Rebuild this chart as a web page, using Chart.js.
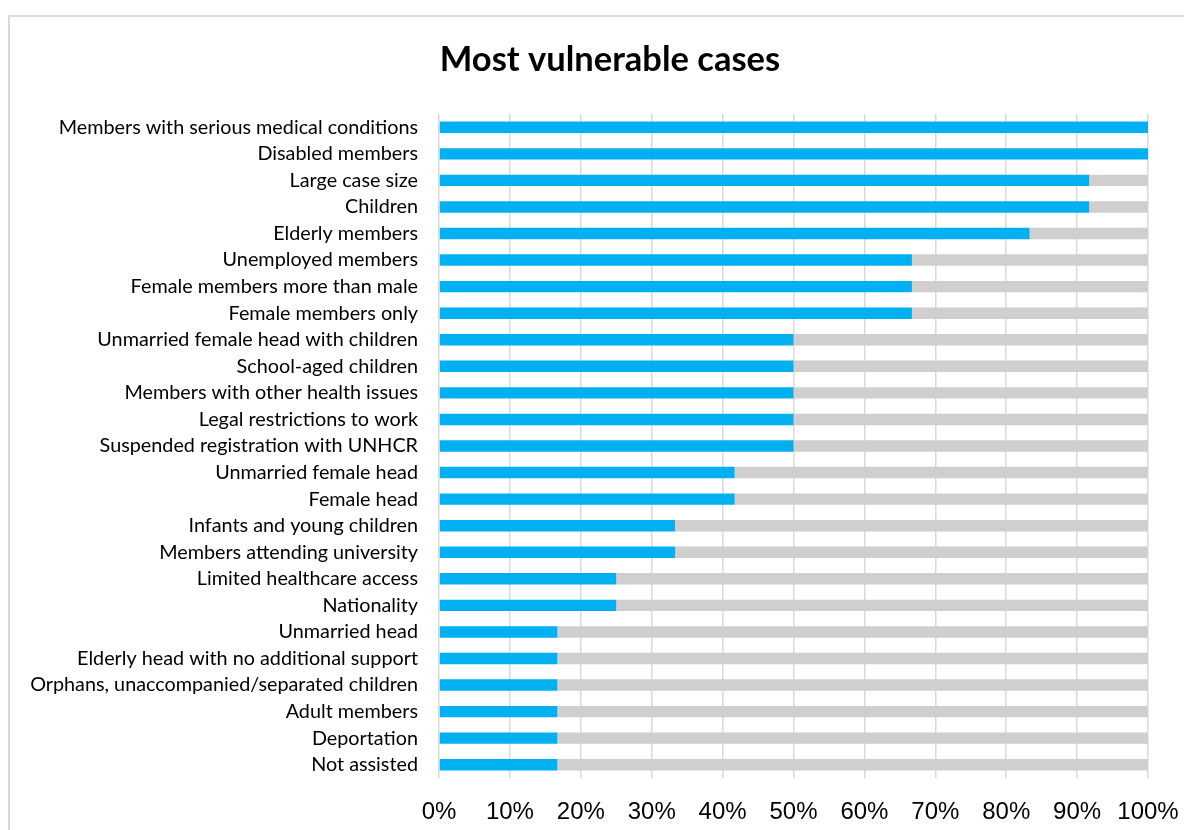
<!DOCTYPE html>
<html>
<head>
<meta charset="utf-8">
<script src="https://cdn.jsdelivr.net/npm/chart.js@4.4.1/dist/chart.umd.min.js"></script>
<style>
  html, body { margin: 0; padding: 0; background: #fff; overflow: hidden; }
  #frame { position: absolute; left: 8px; top: 15px; width: 1204px; height: 832px; border: 2px solid #d9d9d9; box-sizing: border-box; }
  #frame canvas { display: block; }
</style>
</head>
<body>
<div id="frame"><canvas id="chart" width="1200" height="828"></canvas></div>
<script>
const categories = [
    'Members with serious medical conditions',
    'Disabled members',
    'Large case size',
    'Children',
    'Elderly members',
    'Unemployed members',
    'Female members more than male',
    'Female members only',
    'Unmarried female head with children',
    'School-aged children',
    'Members with other health issues',
    'Legal restrictions to work',
    'Suspended registration with UNHCR',
    'Unmarried female head',
    'Female head',
    'Infants and young children',
    'Members attending university',
    'Limited healthcare access',
    'Nationality',
    'Unmarried head',
    'Elderly head with no additional support',
    'Orphans, unaccompanied/separated children',
    'Adult members',
    'Deportation',
    'Not assisted'
];

// share of cases (%) marked as most vulnerable
const vulnerable = [100, 100, 91.7, 91.7, 83.3, 66.7, 66.7, 66.7, 50, 50, 50, 50, 50,
    41.7, 41.7, 33.3, 33.3, 25, 25, 16.7, 16.7, 16.7, 16.7, 16.7, 16.7];
// remainder of each bar
const other = [0, 0, 8.3, 8.3, 16.7, 33.3, 33.3, 33.3, 50, 50, 50, 50, 50,
    58.3, 58.3, 66.7, 66.7, 75, 75, 83.3, 83.3, 83.3, 83.3, 83.3, 83.3];

const xTicks = [0, 10, 20, 30, 40, 50, 60, 70, 80, 90, 100];

const ctx = document.getElementById('chart').getContext('2d');
new Chart(ctx, {
    type: 'bar',
    data: {
        labels: categories,
        datasets: [
            { label: 'Most vulnerable', data: vulnerable, backgroundColor: '#00B0F0', barPercentage: 0.43, categoryPercentage: 1 },
            { label: 'Other', data: other, backgroundColor: '#D0CECE', barPercentage: 0.43, categoryPercentage: 1 }
        ]
    },
    options: {
        indexAxis: 'y',
        responsive: false,
        animation: false,
        layout: { padding: 0 },
        plugins: {
            legend: { display: false },
            tooltip: { enabled: false },
            title: {
                display: true,
                text: 'Most vulnerable cases',
                color: '#000',
                font: { family: 'Lato', size: 34.5, weight: 'bold' },
                padding: { top: 22, bottom: 33.6 }
            }
        },
        scales: {
            x: {
                stacked: true,
                min: 0,
                max: 100,
                afterBuildTicks: scale => { scale.ticks = xTicks.map(v => ({ value: v })); },
                afterFit: scale => { scale.height = 67; scale.paddingRight = 62; },
                grid: { color: '#d9d9d9', lineWidth: 1.5, drawTicks: false },
                border: { display: false },
                ticks: {
                    color: '#000',
                    padding: 20,
                    font: { family: 'Liberation Sans', size: 24 },
                    callback: v => v + '%'
                }
            },
            y: {
                stacked: true,
                afterFit: scale => { scale.width = 429; },
                grid: { display: false, drawTicks: false },
                border: { display: false },
                ticks: {
                    color: '#000',
                    padding: 21,
                    autoSkip: false,
                    font: { family: 'Lato', size: 19.8 }
                }
            }
        }
    }
});
</script>
</body>
</html>
